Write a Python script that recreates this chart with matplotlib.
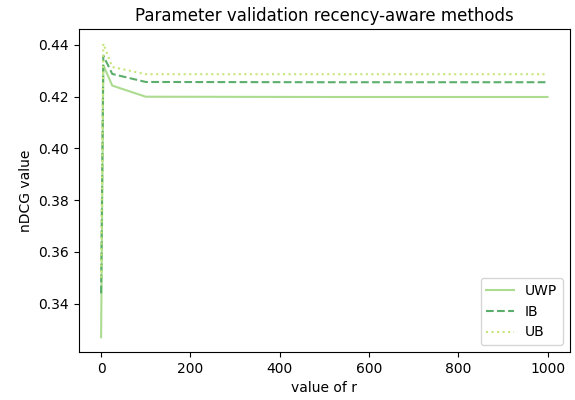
import matplotlib
matplotlib.use("Agg")
import matplotlib.pyplot as plt

# values of r tested
r_values = [0, 5, 25, 100, 500, 1000]

# nDCG per method
uwp = [0.327, 0.4322, 0.4243, 0.4200, 0.4199, 0.4199]
ib = [0.3440, 0.4359, 0.4288, 0.4257, 0.4256, 0.4256]
ub = [0.3500, 0.4405, 0.4315, 0.4287, 0.4287, 0.4287]

fig = plt.figure(figsize=(5.75, 4.0), dpi=100)
ax = fig.add_axes([0.137, 0.12, 0.854, 0.8075])

ax.plot(r_values, uwp, color="#acdc90", linestyle="-", linewidth=1.5, label="UWP")
ax.plot(r_values, ib, color="#5cae6c", linestyle="--", linewidth=1.5, label="IB")
ax.plot(r_values, ub, color="#c6e67c", linestyle=":", linewidth=1.5, label="UB")

ax.set_title("Parameter validation recency-aware methods")
ax.set_xlabel("value of r")
ax.set_ylabel("nDCG value")
ax.set_xticks([0, 200, 400, 600, 800, 1000])
ax.set_yticks([0.34, 0.36, 0.38, 0.40, 0.42, 0.44])
ax.legend(loc="lower right")

fig.savefig("out.png", dpi=100)
